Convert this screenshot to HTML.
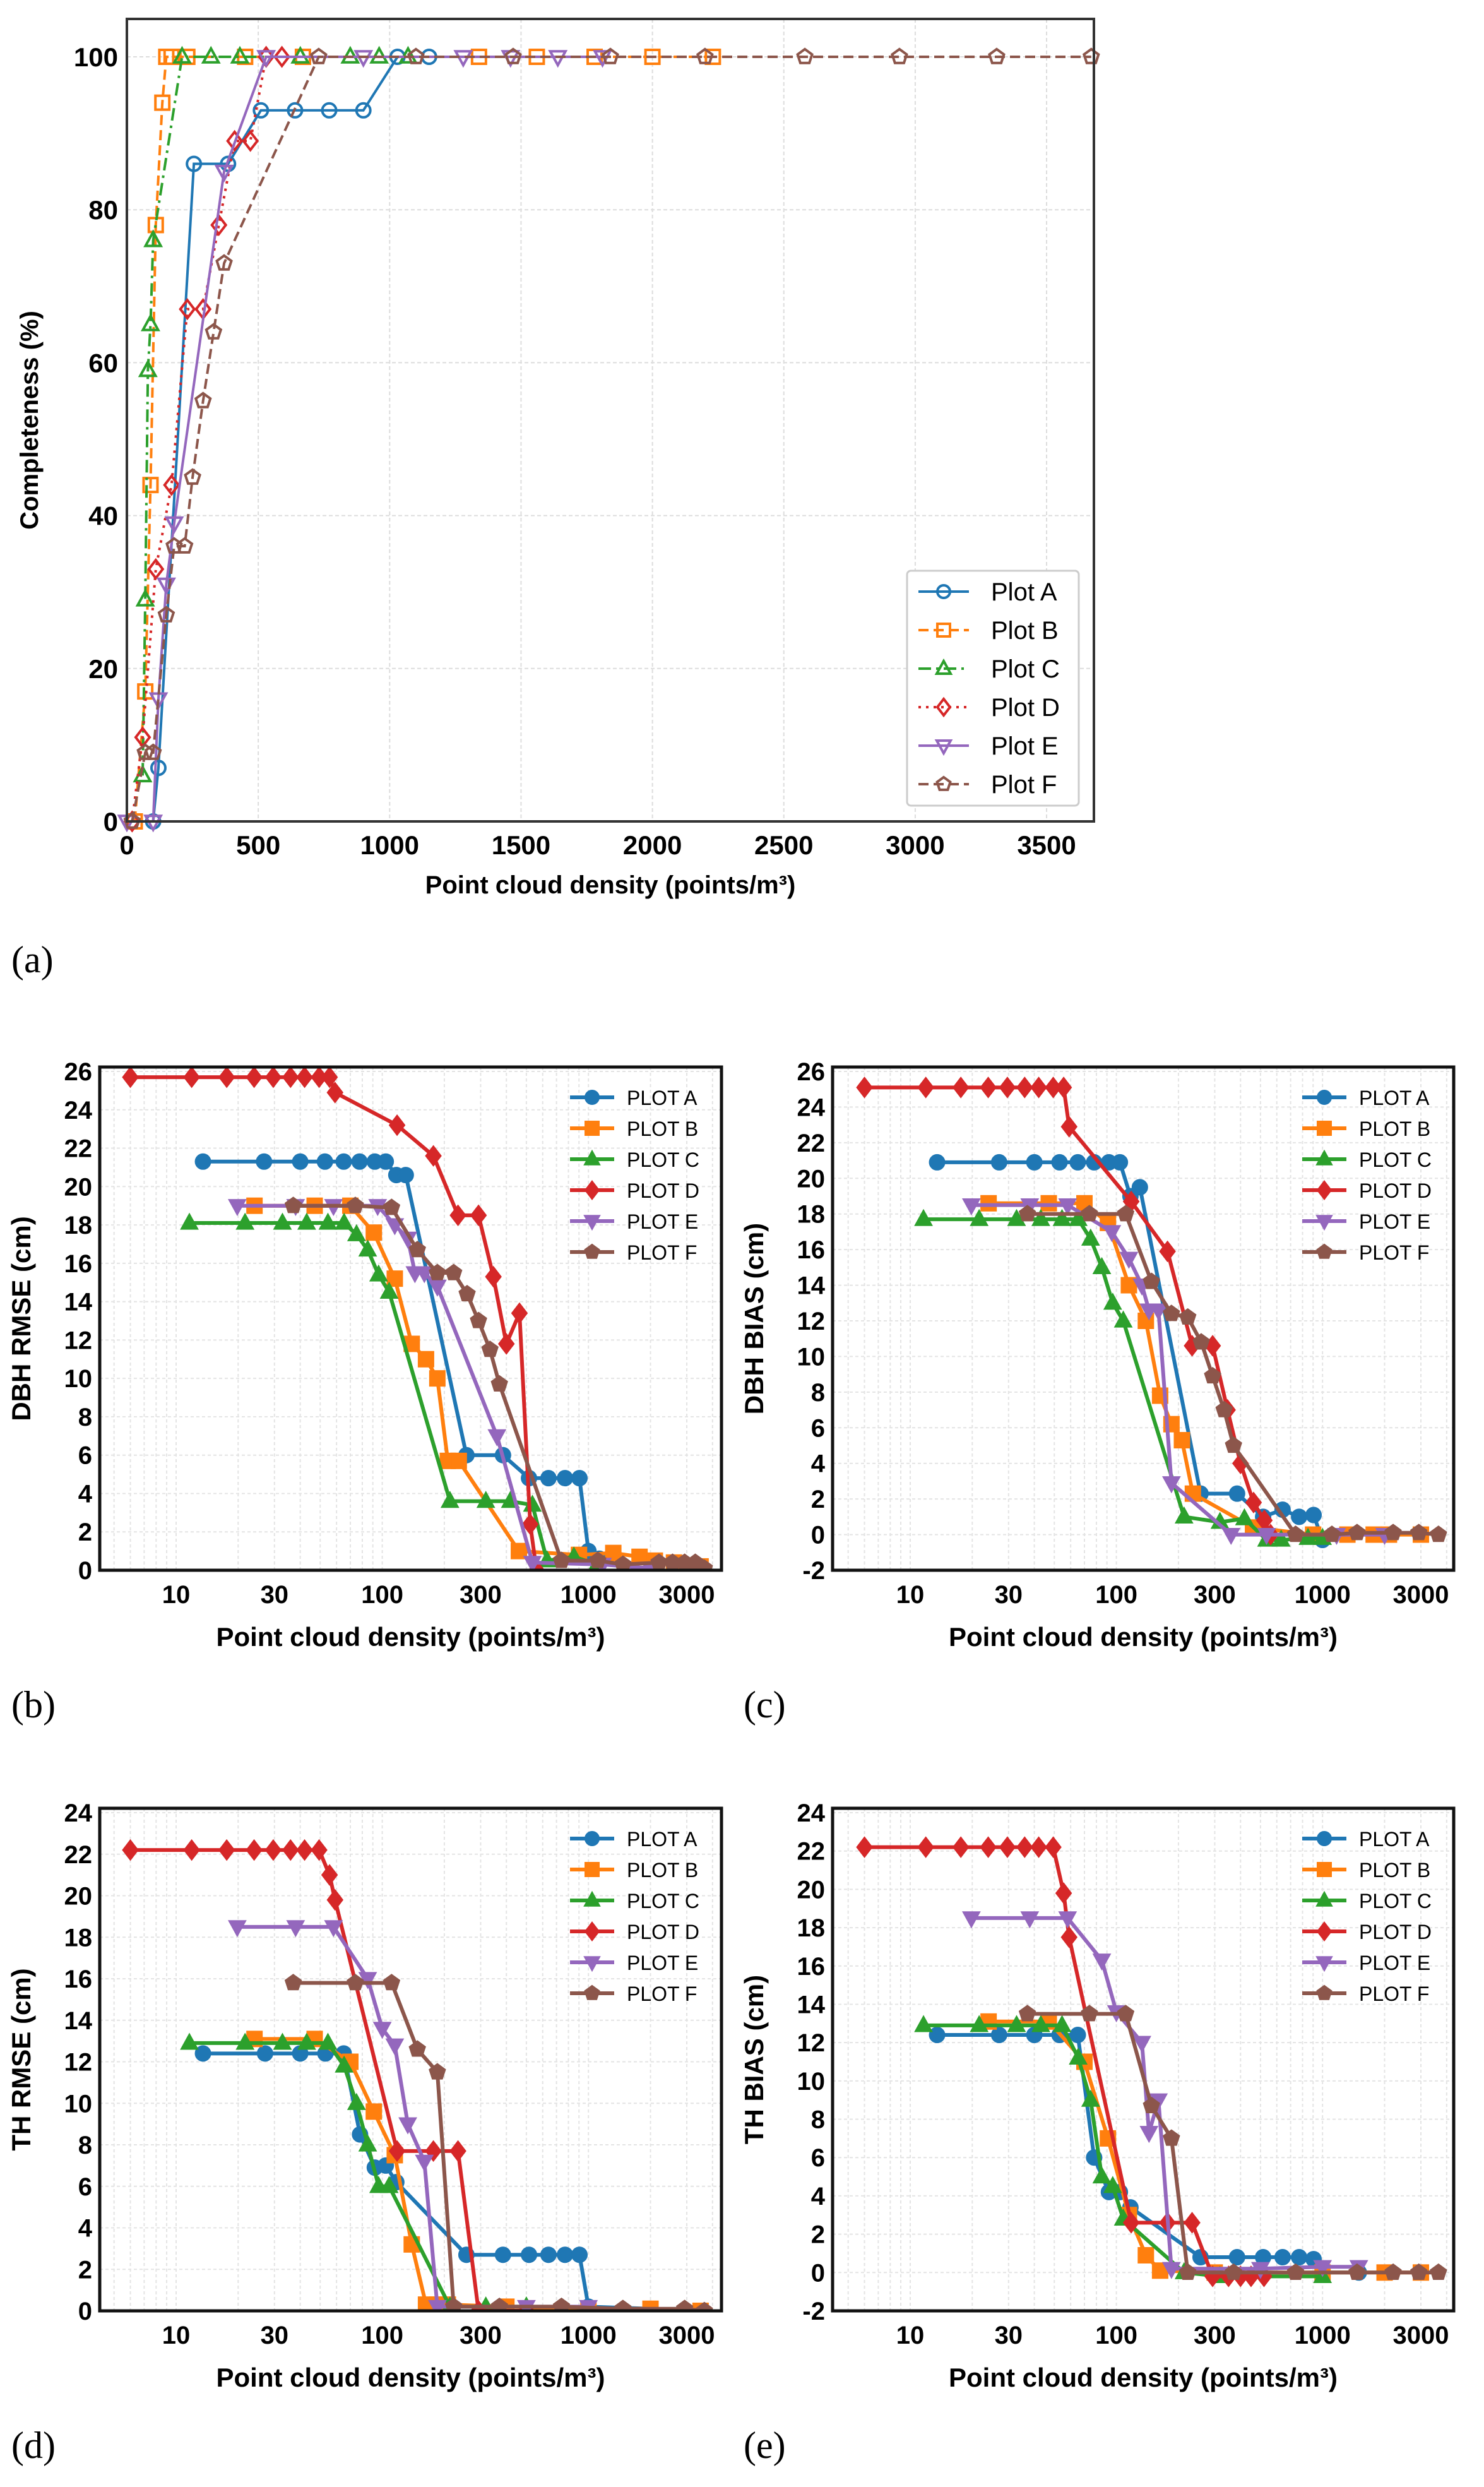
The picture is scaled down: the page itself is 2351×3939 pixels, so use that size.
<!DOCTYPE html>
<html><head><meta charset="utf-8"><style>
html,body{margin:0;padding:0;background:#fff;}
svg{display:block;font-family:"Liberation Sans",sans-serif;}
</style></head><body>
<svg id="fig" width="2351" height="3939" viewBox="0 0 2351 3939" xmlns="http://www.w3.org/2000/svg"></svg>
<script>
const colors=["#1f77b4","#ff7f0e","#2ca02c","#d62728","#9467bd","#8c564b"];
const seriesNames=["A","B","C","D","E","F"];
// Panel (a) completeness
const aA=[[100,0],[120,7],[255,86],[385,86],[510,93],[640,93],[770,93],[900,93],[1030,100],[1150,100]];
const aB=[[30,0],[70,17],[90,44],[110,78],[135,94],[150,100],[170,100],[230,100],[450,100],[670,100],[1340,100],[1560,100],[1780,100],[2000,100],[2230,100]];
const aC=[[60,6],[70,29],[80,59],[90,65],[100,76],[210,100],[320,100],[430,100],[660,100],[850,100],[960,100],[1070,100]];
const aD=[[20,0],[60,11],[110,33],[170,44],[230,67],[290,67],[350,78],[410,89],[470,89],[530,100],[590,100]];
const aE=[[0,0],[100,0],[120,16],[150,31],[180,39],[370,85],[530,100],[900,100],[1280,100],[1460,100],[1640,100],[1810,100]];
const aF=[[20,0],[70,9],[100,9],[150,27],[180,36],[220,36],[250,45],[290,55],[330,64],[370,73],[730,100],[1100,100],[1470,100],[1840,100],[2200,100],[2580,100],[2940,100],[3310,100],[3670,100]];
const aXTicks=[0,500,1000,1500,2000,2500,3000,3500];
const aYTicks=[0,20,40,60,80,100];
// Panel (b) DBH RMSE
const bA=[[13.5,21.3],[26.7,21.3],[40,21.3],[52.7,21.3],[65,21.3],[77.6,21.3],[92,21.3],[104,21.3],[117,20.6],[130,20.6],[256,6],[385,6],[515,4.8],[640,4.8],[770,4.8],[905,4.8],[1000,1],[1130,0.6]];
const bB=[[24,19],[47,19],[70,19],[91,17.6],[115,15.2],[139,11.8],[163,11],[185,10],[208,5.7],[235,5.7],[460,1],[900,0.8],[1320,0.9],[1770,0.7],[2100,0.5],[2600,0.4],[3500,0.2]];
const bC=[[11.6,18.1],[21.6,18.1],[32.8,18.1],[43,18.1],[54.5,18.1],[65.3,18.1],[75,17.5],[85,16.7],[96,15.4],[108,14.5],[213,3.6],[318,3.6],[418,3.6],[535,3.4],[630,0.5],[850,0.7],[1100,0.3]];
const bD=[[6,25.7],[11.9,25.7],[17.6,25.7],[23.9,25.7],[29.6,25.7],[35.9,25.7],[42,25.7],[49.4,25.7],[55.5,25.7],[59,24.9],[118,23.2],[177,21.6],[233,18.5],[293,18.5],[346,15.3],[400,11.8],[463,13.4],[522,2.4],[560,0]];
const bE=[[19.8,19],[38,19],[58,19],[95,19],[115,18],[133,17.3],[144,15.5],[160,15.5],[185,14.8],[360,7],[535,0.4],[1170,0.3],[2000,0.1]];
const bF=[[37,19],[74,19],[111,18.9],[148,16.7],[185,15.5],[222,15.5],[258,14.4],[293,13],[333,11.5],[370,9.7],[740,0.5],[1110,0.5],[1470,0.3],[2200,0.4],[2560,0.4],[2930,0.4],[3300,0.4],[3650,0.1]];
// Panel (c) DBH BIAS
const cA=[[13.5,20.9],[27,20.9],[40,20.9],[53,20.9],[65,20.9],[78,20.9],[92,20.9],[104,20.9],[117,19],[130,19.5],[256,2.3],[385,2.3],[515,1.0],[640,1.4],[770,1.0],[905,1.1],[1000,-0.3]];
const cB=[[24,18.6],[47,18.6],[70,18.6],[91,17.5],[115,14],[139,12],[163,7.8],[185,6.2],[208,5.3],[235,2.3],[460,0.4],[900,0],[1320,0],[1770,0],[2100,0],[3000,0]];
const cC=[[11.6,17.7],[21.6,17.7],[32.8,17.7],[43,17.7],[54.5,17.7],[65.3,17.7],[75,16.6],[85,15],[96,13],[108,12],[213,1],[318,0.7],[418,0.9],[535,-0.3],[630,-0.3],[850,-0.2],[1000,-0.2]];
const cD=[[6,25.1],[11.9,25.1],[17.6,25.1],[23.9,25.1],[29.6,25.1],[35.9,25.1],[42,25.1],[49.4,25.1],[55.5,25.1],[59,22.9],[118,18.7],[177,15.9],[233,10.6],[293,10.6],[346,7],[400,4],[463,1.8],[522,0.8],[560,0]];
const cE=[[19.8,18.5],[38,18.5],[58,18.5],[95,17],[115,15.5],[133,14],[144,12.6],[160,12.6],[185,2.9],[360,0],[535,0],[1170,0],[2000,0]];
const cF=[[37,18],[74,18],[111,18],[148,14.2],[185,12.4],[222,12.2],[258,10.8],[293,8.9],[333,7],[370,5],[740,0],[1110,0],[1470,0.1],[2200,0.1],[2930,0.1],[3650,0]];
// Panel (d) TH RMSE
const dA=[[13.5,12.4],[27,12.4],[40,12.4],[53,12.4],[65,12.4],[78,8.5],[92,6.9],[104,7],[117,6.2],[256,2.7],[385,2.7],[515,2.7],[640,2.7],[770,2.7],[905,2.7],[1000,0.2],[2000,0.1]];
const dB=[[24,13.1],[47,13.1],[70,12],[91,9.6],[115,7.5],[139,3.2],[163,0.3],[185,0.3],[208,0.3],[400,0.2],[1000,0.1],[2000,0.1],[3500,0]];
const dC=[[11.6,12.9],[21.6,12.9],[32.8,12.9],[43,12.9],[54.5,12.9],[65.3,11.8],[75,10],[85,8],[96,6],[108,6],[213,0.2],[318,0.2],[500,0.2]];
const dD=[[6,22.2],[11.9,22.2],[17.6,22.2],[23.9,22.2],[29.6,22.2],[35.9,22.2],[42,22.2],[49.4,22.2],[55.5,21],[59,19.8],[118,7.7],[177,7.7],[233,7.7],[293,0],[500,0]];
const dE=[[19.8,18.5],[38,18.5],[58,18.5],[85,16],[100,13.6],[115,12.8],[133,9],[160,7.2],[185,0.2],[500,0.2],[1000,0.2]];
const dF=[[37,15.8],[74,15.8],[111,15.8],[148,12.6],[185,11.5],[222,0.2],[370,0.2],[740,0.2],[1470,0.1],[2930,0.1],[3650,0]];
// Panel (e) TH BIAS
const eA=[[13.5,12.4],[27,12.4],[40,12.4],[53,12.4],[65,12.4],[78,6],[92,4.2],[104,4.2],[117,3.4],[256,0.8],[385,0.8],[515,0.8],[640,0.8],[770,0.8],[905,0.7],[1000,0],[1500,0]];
const eB=[[24,13.1],[47,13.1],[70,11],[91,7],[115,3],[139,0.9],[163,0.1],[300,0],[1000,0],[2000,0],[3000,0]];
const eC=[[11.6,12.9],[21.6,12.9],[32.8,12.9],[43,12.9],[54.5,12.9],[65.3,11.2],[75,9],[85,5],[96,4.5],[108,2.8],[213,0],[318,-0.2],[1000,-0.2]];
const eD=[[6,22.2],[11.9,22.2],[17.6,22.2],[23.9,22.2],[29.6,22.2],[35.9,22.2],[42,22.2],[49.4,22.2],[55.5,19.8],[59,17.5],[118,2.6],[177,2.6],[233,2.6],[293,-0.2],[350,-0.2],[400,-0.2],[450,-0.2],[520,-0.2]];
const eE=[[19.8,18.5],[38,18.5],[58,18.5],[85,16.3],[100,13.6],[133,12],[144,7.3],[160,9],[185,0.2],[500,0.2],[1000,0.3],[1500,0.3]];
const eF=[[37,13.5],[74,13.5],[111,13.5],[148,8.7],[185,7],[222,0],[370,0],[740,0],[1470,0],[2200,0],[2930,0],[3650,0]];
const logXTicks=[10,30,100,300,1000,3000];
const bYTicks=[0,2,4,6,8,10,12,14,16,18,20,22,24,26];
const cYTicks=[-2,0,2,4,6,8,10,12,14,16,18,20,22,24,26];
const dYTicks=[0,2,4,6,8,10,12,14,16,18,20,22,24];
const eYTicks=[-2,0,2,4,6,8,10,12,14,16,18,20,22,24];

const NS="http://www.w3.org/2000/svg";
const svg=document.getElementById("fig");
function el(tag,attrs,parent){const e=document.createElementNS(NS,tag);for(const k in attrs)e.setAttribute(k,attrs[k]);(parent||svg).appendChild(e);return e;}

function marker(g,type,x,y,r,color,filled){
  const fill=filled?color:"none";const sw=filled?2:4;
  let m;
  if(type==="o") m=el("circle",{cx:x,cy:y,r:r,fill:fill,stroke:color,"stroke-width":sw},g);
  else if(type==="s") m=el("rect",{x:x-r,y:y-r,width:2*r,height:2*r,fill:fill,stroke:color,"stroke-width":sw},g);
  else if(type==="^") m=el("polygon",{points:`${x},${y-r*1.2} ${x-r*1.1},${y+r*0.8} ${x+r*1.1},${y+r*0.8}`,fill:fill,stroke:color,"stroke-width":sw},g);
  else if(type==="v") m=el("polygon",{points:`${x},${y+r*1.2} ${x-r*1.1},${y-r*0.8} ${x+r*1.1},${y-r*0.8}`,fill:fill,stroke:color,"stroke-width":sw},g);
  else if(type==="D") m=el("polygon",{points:`${x},${y-r*1.3} ${x+r},${y} ${x},${y+r*1.3} ${x-r},${y}`,fill:fill,stroke:color,"stroke-width":sw},g);
  else { let p=[];for(let i=0;i<5;i++){const a=-Math.PI/2+i*2*Math.PI/5;p.push((x+r*1.1*Math.cos(a))+","+(y+r*1.1*Math.sin(a)));} m=el("polygon",{points:p.join(" "),fill:fill,stroke:color,"stroke-width":sw},g);}
  
  
}
const mtypes=["o","s","^","D","v","p"];

// ---------- Panel (a) ----------
(function(){
  const L=201,R=1733,T=30,B=1301;
  const sx=v=>201+v*0.4163, sy=v=>1301-v*12.11;
  const g=el("g",{});
  aXTicks.forEach(t=>{const l=el("line",{x1:sx(t),x2:sx(t),y1:T,y2:B,stroke:"#ddd","stroke-width":2,"stroke-dasharray":"6,4"},g);
    const tx=el("text",{x:sx(t),y:B+52,"text-anchor":"middle","font-size":42,"font-weight":"bold"},g);tx.textContent=t;});
  aYTicks.forEach(t=>{const l=el("line",{x1:L,x2:R,y1:sy(t),y2:sy(t),stroke:"#ddd","stroke-width":2,"stroke-dasharray":"6,4"},g);
    const tx=el("text",{x:L-14,y:sy(t)+15,"text-anchor":"end","font-size":42,"font-weight":"bold"},g);tx.textContent=t;});
  const series=[aA,aB,aC,aD,aE,aF];
  const dashes=["none","16,8","20,8,4,8","4,8","none","16,8"];
  series.forEach((s,i)=>{
    const sg=el("g",{},g);
    el("polyline",{points:s.map(p=>sx(p[0])+","+sy(p[1])).join(" "),fill:"none",stroke:colors[i],"stroke-width":4,"stroke-dasharray":dashes[i]},sg);
    s.forEach(p=>marker(sg,mtypes[i],sx(p[0]),sy(p[1]),11,colors[i],false));
  });
  el("rect",{x:L,y:T,width:R-L,height:B-T,fill:"none",stroke:"#333","stroke-width":4},g);
  const yl=el("text",{x:60,y:(T+B)/2,"text-anchor":"middle","font-size":40,"font-weight":"bold",transform:`rotate(-90 60 ${(T+B)/2})`},g);yl.textContent="Completeness (%)";
  const xl=el("text",{x:(L+R)/2,y:1415,"text-anchor":"middle","font-size":40,"font-weight":"bold"},g);xl.textContent="Point cloud density (points/m³)";
  const lg=el("g",{},g);
  el("rect",{x:1437,y:904,width:272,height:372,rx:6,fill:"#fff",stroke:"#ccc","stroke-width":3},lg);
  seriesNames.forEach((n,i)=>{const y=937+i*61;
    el("line",{x1:1455,x2:1535,y1:y,y2:y,stroke:colors[i],"stroke-width":4,"stroke-dasharray":dashes[i]},lg);
    marker(lg,mtypes[i],1495,y,10,colors[i],false);
    const t=el("text",{x:1570,y:y+14,"font-size":40},lg);t.textContent="Plot "+n;});
  const pl=el("text",{x:18,y:1540,"font-size":60,"font-family":"Liberation Serif, serif"},g);pl.textContent="(a)";
})();

// ---------- log panels ----------
function logPanel(opt){
  const {L,R,T,B,x10,ymin,ymax,yTicks,series,ytitle,label,labelX,labelY,name}=opt;
  const dec=326.6;
  const sx=v=>x10+(Math.log10(v)-1)*dec;
  const sy=v=>B-(v-ymin)/(ymax-ymin)*(B-T-7);
  const g=el("g",{});
  const clipId=name+"-clip";
  const cp=el("clipPath",{id:clipId},g);el("rect",{x:L,y:T,width:R-L,height:B-T},cp);
  // minor grid
  for(let e=0;e<4;e++)for(let k=1;k<10;k++){const v=k*Math.pow(10,e);const x=sx(v);if(x>L&&x<R)el("line",{x1:x,x2:x,y1:T,y2:B,stroke:"#e4e4e4","stroke-width":2,"stroke-dasharray":"5,4"},g);}
  yTicks.forEach(t=>{el("line",{x1:L,x2:R,y1:sy(t),y2:sy(t),stroke:"#e4e4e4","stroke-width":2,"stroke-dasharray":"5,4"},g);
    const tx=el("text",{x:L-12,y:sy(t)+14,"text-anchor":"end","font-size":40,"font-weight":"bold"},g);tx.textContent=t;});
  logXTicks.forEach(t=>{const tx=el("text",{x:sx(t),y:B+52,"text-anchor":"middle","font-size":40,"font-weight":"bold"},g);tx.textContent=t;});
  const dg=el("g",{"clip-path":`url(#${clipId})`},g);
  series.forEach((s,i)=>{
    const sg=el("g",{},dg);
    el("polyline",{points:s.map(p=>sx(p[0])+","+sy(p[1])).join(" "),fill:"none",stroke:colors[i],"stroke-width":6},sg);
    s.forEach(p=>marker(sg,mtypes[i],sx(p[0]),sy(p[1]),12,colors[i],true));
  });
  el("rect",{x:L,y:T,width:R-L,height:B-T,fill:"none",stroke:"#111","stroke-width":5},g);
  const cy=(T+B)/2;
  const yl=el("text",{x:L-110,y:cy,"text-anchor":"middle","font-size":42,"font-weight":"bold",transform:`rotate(-90 ${L-110} ${cy})`},g);yl.textContent=ytitle;
  const xl=el("text",{x:(L+R)/2,y:B+120,"text-anchor":"middle","font-size":42,"font-weight":"bold"},g);xl.textContent="Point cloud density (points/m³)";
  const lg=el("g",{});g.appendChild(lg);
  seriesNames.forEach((n,i)=>{const y=T+48+i*49;
    el("line",{x1:R-240,x2:R-170,y1:y,y2:y,stroke:colors[i],"stroke-width":6},lg);
    marker(lg,mtypes[i],R-205,y,11,colors[i],true);
    const t=el("text",{x:R-150,y:y+12,"font-size":32},lg);t.textContent="PLOT "+n;});
  const pl=el("text",{x:labelX,y:labelY,"font-size":60,"font-family":"Liberation Serif, serif"},g);pl.textContent=label;
}
logPanel({L:158,R:1143,T:1690,B:2487,x10:279,ymin:0,ymax:26,yTicks:bYTicks,series:[bA,bB,bC,bD,bE,bF],ytitle:"DBH RMSE (cm)",label:"(b)",labelX:18,labelY:2720,name:"panel-b-dbh-rmse"});
logPanel({L:1319,R:2303,T:1690,B:2487,x10:1442,ymin:-2,ymax:26,yTicks:cYTicks,series:[cA,cB,cC,cD,cE,cF],ytitle:"DBH BIAS (cm)",label:"(c)",labelX:1178,labelY:2720,name:"panel-c-dbh-bias"});
logPanel({L:158,R:1143,T:2864,B:3660,x10:279,ymin:0,ymax:24,yTicks:dYTicks,series:[dA,dB,dC,dD,dE,dF],ytitle:"TH RMSE (cm)",label:"(d)",labelX:18,labelY:3893,name:"panel-d-th-rmse"});
logPanel({L:1319,R:2303,T:2864,B:3660,x10:1442,ymin:-2,ymax:24,yTicks:eYTicks,series:[eA,eB,eC,eD,eE,eF],ytitle:"TH BIAS (cm)",label:"(e)",labelX:1178,labelY:3893,name:"panel-e-th-bias"});
</script>
</body></html>
